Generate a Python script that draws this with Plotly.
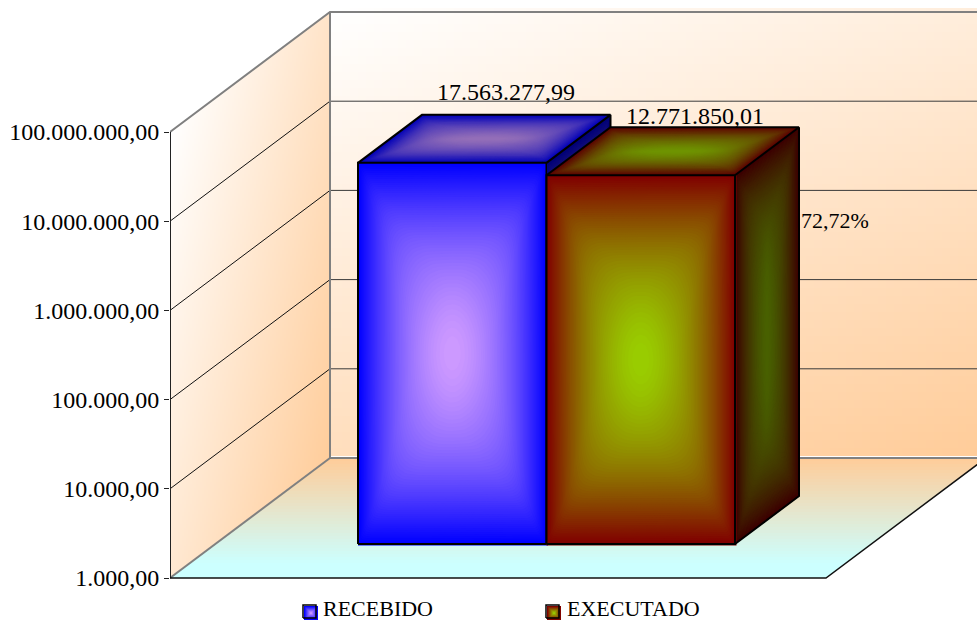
import numpy as np
import plotly.graph_objects as go

# Chart data
series_names = ["RECEBIDO", "EXECUTADO"]
series_values = [17563277.99, 12771850.01]
tick_values = [1e3, 1e4, 1e5, 1e6, 1e7, 1e8]
tick_labels = ["1.000,00", "10.000,00", "100.000,00", "1.000.000,00", "10.000.000,00", "100.000.000,00"]

# Face colours (edge of face, centre of face)
edge_colors = [(0, 0, 255), (128, 0, 0)]
center_colors = [(204, 153, 255), (153, 204, 0)]
TOP_SHADE, SIDE_SHADE = 0.72, 0.47

# Oblique projection of the chart box
DECADE_PX = 89.2
FLOOR_PX, LEFT_PX = 578, 170
PAGE_H = 621
DEPTH_DX, DEPTH_DY = 160, 120
FLOOR_W = 656
BAR_D0, BAR_DD = 34 / 120, 0.4
BAR_X0, BAR_W = 358 - DEPTH_DX * BAR_D0, 188.5
BAR_STRETCH = 1.0067
SERIF = "Liberation Serif"
PEACH, WHITE, CYAN = (255, 204, 153), (255, 255, 255), (204, 255, 255)


def value_at_pixel(py):
    return 10 ** (3 + (FLOOR_PX - py) / DECADE_PX)


def project(x, value, depth):
    """Front-plane position (x, value) pushed back by depth along the oblique axis."""
    return x + DEPTH_DX * depth, 10 ** (np.log10(value) + depth * DEPTH_DY / DECADE_PX)


def mix(a, b, t):
    return tuple(a[i] + (b[i] - a[i]) * t for i in range(3))


def css(c):
    return "rgb(%d,%d,%d)" % tuple(round(v) for v in c)


fig = go.Figure()

# Back wall
bx = np.arange(330, 986, 8.0)
by = np.arange(12, 460, 8.0)
bt = [[0.35 * (x - 330) / 647 + 0.65 * (y - 12) / 446 for x in bx] for y in by]
wall_scale = [[0, css(WHITE)], [1, css(PEACH)]]
fig.add_trace(go.Heatmap(x=bx, y=[value_at_pixel(p) for p in by], z=bt, zmin=0, zmax=1,
                         colorscale=wall_scale, showscale=False, hoverinfo="skip"))

# Left wall, masked to its parallelogram
lx = np.arange(171, 331, 2.0)
ly = np.arange(13, 579, 2.0)
lt = []
for y in ly:
    row = []
    for x in lx:
        top = 132 - 0.75 * (x - 170)
        inside = top <= y <= top + 446
        row.append(min(1, 0.65 * (x - 170) / 160 + 0.35 * (y - 132) / 346) if inside else None)
    lt.append(row)
fig.add_trace(go.Heatmap(x=lx, y=[value_at_pixel(p) for p in ly], z=lt, zmin=0, zmax=1,
                         colorscale=wall_scale, showscale=False, hoverinfo="skip", hoverongaps=False))


def poly(xs, ys, color):
    fig.add_trace(go.Scatter(x=list(xs) + [xs[0]], y=list(ys) + [ys[0]], mode="lines", fill="toself",
                             fillcolor=color, line=dict(width=0), hoverinfo="skip",
                             showlegend=False, cliponaxis=False))


def line(xs, ys, color, width):
    fig.add_trace(go.Scatter(x=xs, y=ys, mode="lines", line=dict(color=color, width=width),
                             hoverinfo="skip", showlegend=False, cliponaxis=False))


# Floor: banded strips from the back edge to the front edge
STRIPS = 40
for i in range(STRIPS):
    d1, d0 = 1 - i / STRIPS, 1 - (i + 1) / STRIPS
    xa0, ya0 = project(LEFT_PX, 1e3, d1)
    xb0, yb0 = project(LEFT_PX, 1e3, d0)
    poly([xa0, xa0 + FLOOR_W, xb0 + FLOOR_W, xb0], [ya0, ya0, yb0, yb0],
         css(mix(PEACH, CYAN, min(1, (i + 0.5) / (STRIPS * 0.88)))))

# Gridlines on the side and back walls
gx, gy, bgx, bgy = [], [], [], []
for v in tick_values[1:-1]:
    p0, p1 = project(LEFT_PX, v, 0), project(LEFT_PX, v, 1)
    gx += [p0[0], p1[0], None]
    gy += [p0[1], p1[1], None]
    bgx += [p1[0], 986, None]
    bgy += [p1[1], p1[1], None]
line(bgx, bgy, "#3a3a3a", 1)
line(gx, gy, "#111111", 1)

# Box frame
GREY = "#808080"
c_top_f = project(LEFT_PX, tick_values[-1], 0)
c_top_b = project(LEFT_PX, tick_values[-1], 1)
c_bot_b = project(LEFT_PX, tick_values[0], 1)
c_bot_f = project(LEFT_PX, tick_values[0], 0)
line([c_top_f[0], c_top_b[0], 986], [c_top_f[1], c_top_b[1], c_top_b[1]], GREY, 2)
line([c_top_b[0], c_bot_b[0], 986], [c_top_b[1], c_bot_b[1], c_bot_b[1]], GREY, 2)
line([c_bot_f[0], c_bot_b[0]], [c_bot_f[1], c_bot_b[1]], GREY, 2)
line([LEFT_PX, LEFT_PX], [tick_values[0], tick_values[-1]], "#222222", 2)
line([LEFT_PX, LEFT_PX + FLOOR_W, LEFT_PX + FLOOR_W + DEPTH_DX],
     [c_bot_f[1], c_bot_f[1], c_bot_b[1]], "#111111", 1.5)

LEVELS = 60
ANGLES = np.linspace(0, 2 * np.pi, 65)[:-1]


def shaded_face(corners, edge, center, pow_u=1.7, pow_v=1.7):
    """Path gradient: contours run from the face outline to a rounded centre.

    corners go round the face from its lower-left; pow_u and pow_v flatten the ridge
    along a long side of the face.
    """
    logs = np.array([(c[0], np.log10(c[1])) for c in corners])
    mid = logs.mean(axis=0)
    u_dir = (logs[1] - logs[0]) / 2
    v_dir = (logs[3] - logs[0]) / 2
    for k in range(LEVELS):
        s = 1 - k / LEVELS
        p = 2 + 60 * s ** 3
        hu, hv = s ** (1 / pow_u), s ** (1 / pow_v)
        cu = np.sign(np.cos(ANGLES)) * np.abs(np.cos(ANGLES)) ** (2 / p)
        cv = np.sign(np.sin(ANGLES)) * np.abs(np.sin(ANGLES)) ** (2 / p)
        if k == 0:
            pts = logs
        else:
            pts = mid + np.outer(hu * cu, u_dir) + np.outer(hv * cv, v_dir)
        poly(list(pts[:, 0]), list(10 ** pts[:, 1]), css(mix(edge, center, k / (LEVELS - 1))))


def shade(c, f):
    return tuple(v * f for v in c)


# Bars, back to front, each with side, top and front face
for i, value in enumerate(series_values):
    x0, x1 = BAR_X0 + BAR_W * i, BAR_X0 + BAR_W * (i + 1)
    top_v = 10 ** (3 + (np.log10(value) - 3) * BAR_STRETCH)
    d0, d1 = BAR_D0, BAR_D0 + BAR_DD
    a, b = project(x0, 1e3, d0), project(x1, 1e3, d0)
    c, e = project(x1, top_v, d0), project(x0, top_v, d0)
    a2, b2 = project(x0, 1e3, d1), project(x1, 1e3, d1)
    c2, e2 = project(x1, top_v, d1), project(x0, top_v, d1)
    edge, center = edge_colors[i], center_colors[i]

    shaded_face([b, b2, c2, c], shade(edge, SIDE_SHADE), shade(center, SIDE_SHADE), 1.5, 3.0)
    shaded_face([e, c, c2, e2], shade(edge, TOP_SHADE), shade(center, TOP_SHADE), 3.0, 1.5)
    # coloured rim showing just past the front outline
    low = value_at_pixel(FLOOR_PX - BAR_D0 * DEPTH_DY + 1.5)
    poly([a[0], b[0] + 1.5, b[0] + 1.5, a[0]], [low, low, e[1], e[1]], css(edge))
    shaded_face([a, b, c, e], edge, center)

    line([a[0], b[0], c[0], e[0], a[0]], [a[1], b[1], c[1], e[1], a[1]], "#000000", 2)
    line([e[0], e2[0], c2[0], c[0]], [e[1], e2[1], c2[1], c[1]], "#000000", 2)
    line([c2[0], b2[0], b[0]], [c2[1], b2[1], b[1]], "#000000", 2)


def money(v):
    return f"{v:,.2f}".replace(",", "#").replace(".", ",").replace("#", ".")


# Data labels
label_x = [506, 695, 835]
label_py = [94, 118, 222]
label_size = [24, 24, 22]
ratio = series_values[1] / series_values[0]
label_text = [money(series_values[0]), money(series_values[1]), f"{ratio * 100:.2f}%".replace(".", ",")]
fig.add_trace(go.Scatter(x=label_x, y=[value_at_pixel(p) for p in label_py], text=label_text, mode="text",
                         textposition="middle center", textfont=dict(family=SERIF, size=label_size, color="#000"),
                         hoverinfo="skip", showlegend=False, cliponaxis=False))

# Key below the floor: a small shaded square and the series name
key_swatch_x = [303, 546]
key_text_x = [323, 567]
KEY_TOP, KEY_SIZE = 605, 14
for i, name in enumerate(series_names):
    sx = key_swatch_x[i]
    for k in range(8):
        m = k * KEY_SIZE / 16
        poly([sx + m + 1, sx + KEY_SIZE + 1 - m, sx + KEY_SIZE + 1 - m, sx + m + 1],
             [value_at_pixel(KEY_TOP + m + 1)] * 2 + [value_at_pixel(KEY_TOP + KEY_SIZE + 1 - m)] * 2,
             css(mix(edge_colors[i], center_colors[i], k / 7)))
    line([sx, sx + KEY_SIZE - 1, sx + KEY_SIZE - 1, sx, sx],
         [value_at_pixel(KEY_TOP + KEY_SIZE - 1)] * 2 + [value_at_pixel(KEY_TOP)] * 2 + [value_at_pixel(KEY_TOP + KEY_SIZE - 1)],
         "#000", 1.5)
fig.add_trace(go.Scatter(x=key_text_x, y=[value_at_pixel(610)] * 2, text=series_names, mode="text",
                         textposition="middle right", textfont=dict(family=SERIF, size=22, color="#000"),
                         hoverinfo="skip", showlegend=False, cliponaxis=False))

fig.update_layout(
    width=977, height=PAGE_H, margin=dict(l=LEFT_PX, r=0, t=0, b=0),
    paper_bgcolor="#fff", plot_bgcolor="#fff", showlegend=False,
    xaxis=dict(range=[LEFT_PX, 977], visible=False, fixedrange=True),
    yaxis=dict(type="log", range=[3 - (PAGE_H - FLOOR_PX) / DECADE_PX, 3 + FLOOR_PX / DECADE_PX],
               tickmode="array", tickvals=tick_values,
               ticktext=tick_labels, ticks="outside", ticklen=5, tickcolor="#222", tickwidth=1,
               showgrid=False, zeroline=False, showline=False, fixedrange=True,
               tickfont=dict(family=SERIF, size=24, color="#000")),
)

fig.write_html("out.html")
